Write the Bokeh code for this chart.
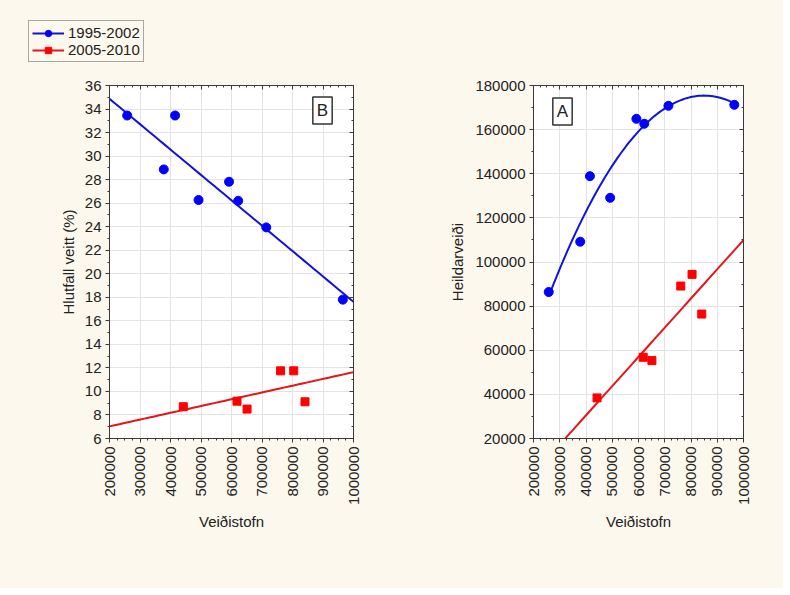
import math
import numpy as np
from bokeh.plotting import figure
from bokeh.layouts import row, column
from bokeh.models import (LinearAxis, Legend, LegendItem, Label, Range1d,
                          SingleIntervalTicker, BasicTickFormatter,
                          CustomJSTickFormatter)
from bokeh.embed import file_html
from bokeh.resources import INLINE

# ---- data ----
stofn_9502 = [258000, 378000, 415000, 492000, 592000, 622000, 714000, 965000]
hlutfall_9502 = [33.45, 28.87, 33.45, 26.27, 27.82, 26.2, 23.94, 17.8]
heildar_9502 = [86400, 109200, 138900, 129100, 164900, 162650, 170800, 171250]

stofn_0510 = [442000, 618000, 651000, 761000, 804000, 841000]
hlutfall_0510 = [8.7, 9.17, 8.5, 11.75, 11.75, 9.12]
heildar_0510 = [38400, 56800, 55300, 89100, 94400, 76400]

labels = ["1995-2002", "2005-2010"]
x_min, x_max = 200000, 1000000

CREAM = "#FDF8ED"
FONT = "Liberation Sans"
FRAME = "#3a3a3a"
BLUE_M, BLUE_L = "#0000ff", "#1212dc"
RED_M, RED_L = "#ff0000", "#e8141a"
LEG_H = 65


def add_box_axis(p, place, ticker):
    ax = LinearAxis(ticker=ticker,
                    formatter=CustomJSTickFormatter(code="return ''"),
                    major_label_standoff=0, major_tick_in=4, major_tick_out=0,
                    minor_tick_in=2, minor_tick_out=0, axis_line_color=FRAME,
                    major_tick_line_color=FRAME, minor_tick_line_color=FRAME)
    p.add_layout(ax, place)


def make_fig(ylo, yhi, y_int, y_minor, ylabel, bl, fw, br, ystand):
    p = figure(x_range=Range1d(x_min, x_max), y_range=Range1d(ylo, yhi),
               frame_width=fw, frame_height=353,
               min_border_left=bl, min_border_right=br,
               min_border_top=85 - LEG_H, min_border_bottom=150,
               output_backend="svg", toolbar_location=None,
               background_fill_color="white", border_fill_color=CREAM,
               outline_line_color=FRAME, x_axis_label="Veiðistofn",
               y_axis_label=ylabel)
    xt = SingleIntervalTicker(interval=100000, num_minor_ticks=4)
    yt = SingleIntervalTicker(interval=y_int, num_minor_ticks=y_minor)
    p.xaxis.ticker = xt
    p.yaxis.ticker = yt
    p.xgrid.ticker = xt
    p.ygrid.ticker = yt
    p.xaxis.formatter = BasicTickFormatter(use_scientific=False)
    p.yaxis.formatter = BasicTickFormatter(use_scientific=False)
    p.xaxis.major_label_orientation = math.pi / 2
    for ax in (p.xaxis, p.yaxis):
        ax.major_label_text_font = FONT
        ax.major_label_text_font_size = "15px"
        ax.major_label_text_color = "#222222"
        ax.axis_label_text_font = FONT
        ax.axis_label_text_font_size = "15px"
        ax.axis_label_text_font_style = "normal"
        ax.axis_label_text_color = "#222222"
        ax.axis_line_color = FRAME
        ax.major_tick_line_color = FRAME
        ax.minor_tick_line_color = FRAME
        ax.major_tick_out = 4
        ax.major_tick_in = 0
        ax.minor_tick_out = 2
        ax.minor_tick_in = 0
        ax.major_label_standoff = 4
    p.xaxis.axis_label_standoff = 5
    p.yaxis.axis_label_standoff = ystand
    p.grid.grid_line_color = "#e3e3e3"
    p.grid.grid_line_width = 1
    add_box_axis(p, "above", SingleIntervalTicker(interval=100000, num_minor_ticks=4))
    add_box_axis(p, "right", SingleIntervalTicker(interval=y_int, num_minor_ticks=y_minor))
    return p


def box_label(p, txt, sx, sy):
    p.add_layout(Label(x=sx, y=sy, x_units="screen", y_units="screen", text=txt,
                       text_align="center", text_baseline="middle",
                       text_font=FONT, text_font_size="17px", text_color="#222222",
                       border_line_color="#333333", border_line_width=1.5,
                       background_fill_color="white", padding=4))


xs_line = np.linspace(x_min, x_max, 50)

# ---- legend strip (top of page) ----
leg = figure(width=783, height=LEG_H, x_range=Range1d(0, 1), y_range=Range1d(0, 1),
             output_backend="svg", toolbar_location=None, min_border=0,
             background_fill_color=CREAM, border_fill_color=CREAM,
             outline_line_color=None)
leg.axis.visible = False
leg.grid.visible = False
# series drawn here far outside the strip's ranges, only to feed the legend
d_lb = leg.line(stofn_9502, hlutfall_9502, line_color=BLUE_L, line_width=2)
d_sb = leg.scatter(stofn_9502, hlutfall_9502, marker="circle", size=9,
                   fill_color=BLUE_M, line_color=BLUE_M)
d_lr = leg.line(stofn_0510, hlutfall_0510, line_color=RED_L, line_width=2)
d_sr = leg.scatter(stofn_0510, hlutfall_0510, marker="square", size=8,
                   fill_color=RED_M, line_color=RED_M)
legend = Legend(items=[LegendItem(label=labels[0], renderers=[d_lb, d_sb]),
                       LegendItem(label=labels[1], renderers=[d_lr, d_sr])],
                location=(28, 3), border_line_color="#555555",
                border_line_width=1, background_fill_alpha=0,
                label_text_font=FONT, label_text_font_size="15px",
                label_text_color="#222222", glyph_width=32, glyph_height=16,
                label_height=16, padding=3, spacing=0, margin=0,
                label_standoff=4)
leg.add_layout(legend)

# ---- left panel (B) ----
p1 = make_fig(6, 36, 2, 2, "Hlutfall veitt (%)", 109, 244, 47, 5)
cb = np.polyfit(stofn_9502, hlutfall_9502, 1)
cr = np.polyfit(stofn_0510, hlutfall_0510, 1)
p1.line(xs_line, np.polyval(cb, xs_line), line_color=BLUE_L, line_width=2)
p1.line(xs_line, np.polyval(cr, xs_line), line_color=RED_L, line_width=2)
p1.scatter(stofn_9502, hlutfall_9502, marker="circle", size=9,
           fill_color=BLUE_M, line_color=BLUE_M)
p1.scatter(stofn_0510, hlutfall_0510, marker="square", size=8,
           fill_color=RED_M, line_color=RED_M)
box_label(p1, "B", 213, 328)

# ---- right panel (A) ----
p2 = make_fig(20000, 180000, 20000, 2, "Heildarveiði", 133, 210, 40, 6)
qb = np.polyfit(stofn_9502, heildar_9502, 2)
xs_q = np.linspace(min(stofn_9502), max(stofn_9502), 80)
qr = np.polyfit(stofn_0510, heildar_0510, 1)
p2.line(xs_q, np.polyval(qb, xs_q), line_color=BLUE_L, line_width=2)
p2.line(xs_line, np.polyval(qr, xs_line), line_color=RED_L, line_width=2)
p2.scatter(stofn_9502, heildar_9502, marker="circle", size=9,
           fill_color=BLUE_M, line_color=BLUE_M)
p2.scatter(stofn_0510, heildar_0510, marker="square", size=8,
           fill_color=RED_M, line_color=RED_M)
box_label(p2, "A", 29, 327)

layout = column(leg, row(p1, p2, spacing=0), spacing=0,
                styles={"background-color": CREAM})
open("out.html", "w").write(file_html(layout, INLINE))
